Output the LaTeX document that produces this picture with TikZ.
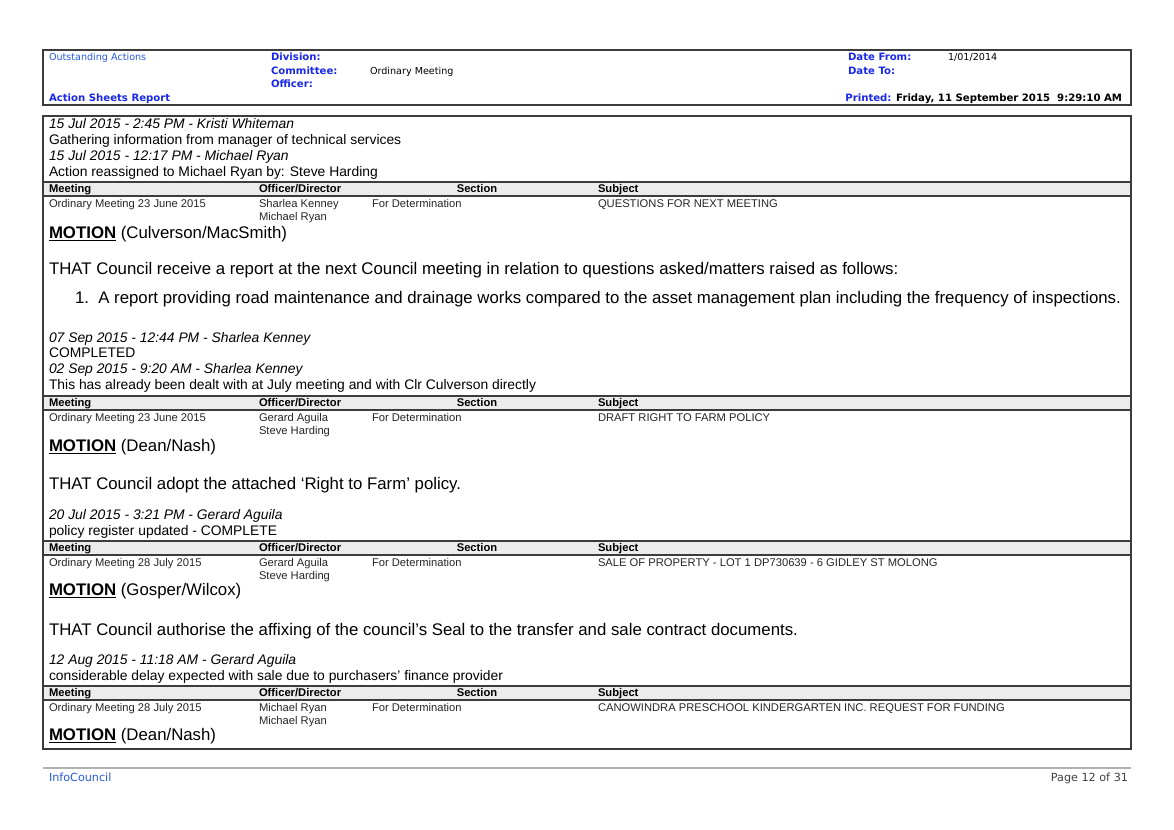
\documentclass[tikz,border=0pt]{standalone}
\usepackage{fontspec}
\setmainfont{Liberation Sans}
\newfontfamily\verd{DejaVu Sans}
\usetikzlibrary{positioning}
\definecolor{hdrblue}{RGB}{25,40,235}
\definecolor{linkblue}{RGB}{40,90,220}
\definecolor{bandgray}{RGB}{236,236,236}
\definecolor{framegray}{RGB}{60,60,60}

\begin{document}
\begin{tikzpicture}[x=0.75pt, y=-0.75pt,
    every node/.style={inner sep=0pt, outer sep=0pt, anchor=west, text height=0.72em, text depth=0.2em},
    hdr/.style={font=\verd\fontsize{7.2}{8}\selectfont},
    hdrb/.style={font=\verd\bfseries\fontsize{7.6}{8}\selectfont, text=hdrblue},
    note/.style={font=\fontsize{10.4}{12}\selectfont},
    noteit/.style={font=\itshape\fontsize{10.4}{12}\selectfont},
    cell/.style={font=\fontsize{8.4}{9}\selectfont, text=black!85},
    cellhead/.style={font=\bfseries\fontsize{8.4}{9}\selectfont},
    big/.style={font=\fontsize{12.6}{14}\selectfont},
    frame/.style={draw=framegray, line width=1.4pt}]
    % Page size in pixels
    \useasboundingbox (0,0) rectangle (1174,830);

    % Report header
    \draw[frame] (43,50) rectangle (1131,105);
    \node[hdr, text=linkblue] (outst) at (49,57) {Outstanding Actions};
    \node[hdrb] (asr) at (49,98) {Action Sheets Report};
    \node[hdrb] (div) at (271,57) {Division:};
    \node[hdrb] (com) at (271,71) {Committee:};
    \node[hdr] (comv) at (370,71) {Ordinary Meeting};
    \node[hdrb] (off) at (271,84) {Officer:};
    \node[hdrb] (dfrom) at (848,57) {Date From:};
    \node[hdr] (dfromv) at (948,57) {1/01/2014};
    \node[hdrb] (dto) at (848,71) {Date To:};
    \node[hdrb, anchor=east] (prt) at (1122,98)
        {Printed: \textcolor{black}{Friday, 11 September 2015\ \ 9:29:10 AM}};

    % Column header bands
    \foreach \yb in {182,396,541,686} {
        \fill[bandgray] (43,\yb) rectangle (1131,\yb+14);
        \draw[framegray, line width=0.9pt] (43,\yb) -- (1131,\yb);
        \draw[framegray, line width=0.9pt] (43,\yb+14) -- (1131,\yb+14);
        \node[cellhead] at (49,\yb+7) {Meeting};
        \node[cellhead] at (259,\yb+7) {Officer/Director};
        \node[cellhead, anchor=center] at (477,\yb+7) {Section};
        \node[cellhead] at (598,\yb+7) {Subject};
    }

    % Content frame
    \draw[frame] (43,116) rectangle (1131,749);

    % First action
    \node[noteit] (n1) at (49,125) {15 Jul 2015 - 2:45 PM - Kristi Whiteman};
    \node[note] (n2) at (49,141) {Gathering information from manager of technical services};
    \node[noteit] (n3) at (49,157) {15 Jul 2015 - 12:17 PM - Michael Ryan};
    \node[note] (n4) at (49,173) {Action reassigned to Michael Ryan by: Steve Harding};
    \node[cell] (m1) at (49,204) {Ordinary Meeting 23 June 2015};
    \node[cell] (o1) at (259,204) {Sharlea Kenney};
    \node[cell] (o1b) at (259,217) {Michael Ryan};
    \node[cell] (s1) at (372,204) {For Determination};
    \node[cell] (j1) at (598,204) {QUESTIONS FOR NEXT MEETING};
    \node[big] (mo1) at (49,235) {\textbf{\underline{MOTION}} (Culverson/MacSmith)};
    \node[big] (t1) at (49,271) {THAT Council receive a report at the next Council meeting in relation to questions asked/matters raised as follows:};
    \node[big] (t1b) at (75,300) {1.\ \ A report providing road maintenance and drainage works compared to the asset management plan including the frequency of inspections.};

    % Second action
    \node[noteit] (n5) at (49,339) {07 Sep 2015 - 12:44 PM - Sharlea Kenney};
    \node[note] (n6) at (49,354) {COMPLETED};
    \node[noteit] (n7) at (49,370) {02 Sep 2015 - 9:20 AM - Sharlea Kenney};
    \node[note] (n8) at (49,386) {This has already been dealt with at July meeting and with Clr Culverson directly};
    \node[cell] (m2) at (49,418) {Ordinary Meeting 23 June 2015};
    \node[cell] (o2) at (259,418) {Gerard Aguila};
    \node[cell] (o2b) at (259,431) {Steve Harding};
    \node[cell] (s2) at (372,418) {For Determination};
    \node[cell] (j2) at (598,418) {DRAFT RIGHT TO FARM POLICY};
    \node[big] (mo2) at (49,448) {\textbf{\underline{MOTION}} (Dean/Nash)};
    \node[big] (t2) at (49,486) {THAT Council adopt the attached ‘Right to Farm’ policy.};

    % Third action
    \node[noteit] (n9) at (49,516) {20 Jul 2015 - 3:21 PM - Gerard Aguila};
    \node[note] (n10) at (49,532) {policy register updated - COMPLETE};
    \node[cell] (m3) at (49,563) {Ordinary Meeting 28 July 2015};
    \node[cell] (o3) at (259,563) {Gerard Aguila};
    \node[cell] (o3b) at (259,576) {Steve Harding};
    \node[cell] (s3) at (372,563) {For Determination};
    \node[cell] (j3) at (598,563) {SALE OF PROPERTY - LOT 1 DP730639 - 6 GIDLEY ST MOLONG};
    \node[big] (mo3) at (49,592) {\textbf{\underline{MOTION}} (Gosper/Wilcox)};
    \node[big] (t3) at (49,632) {THAT Council authorise the affixing of the council’s Seal to the transfer and sale contract documents.};

    % Fourth action
    \node[noteit] (n11) at (49,661) {12 Aug 2015 - 11:18 AM - Gerard Aguila};
    \node[note] (n12) at (49,677) {considerable delay expected with sale due to purchasers’ finance provider};
    \node[cell] (m4) at (49,708) {Ordinary Meeting 28 July 2015};
    \node[cell] (o4) at (259,708) {Michael Ryan};
    \node[cell] (o4b) at (259,721) {Michael Ryan};
    \node[cell] (s4) at (372,708) {For Determination};
    \node[cell] (j4) at (598,708) {CANOWINDRA PRESCHOOL KINDERGARTEN INC. REQUEST FOR FUNDING};
    \node[big] (mo4) at (49,737) {\textbf{\underline{MOTION}} (Dean/Nash)};

    % Footer
    \draw[gray!60, line width=1pt] (43,768) -- (1131,768);
    \node[hdr, text=linkblue, font=\verd\fontsize{8.4}{9}\selectfont] (ic) at (49,778) {InfoCouncil};
    \node[hdr, anchor=east, text=black!75, font=\verd\fontsize{8.4}{9}\selectfont] (pg) at (1128,778) {Page 12 of 31};
\end{tikzpicture}
\end{document}
